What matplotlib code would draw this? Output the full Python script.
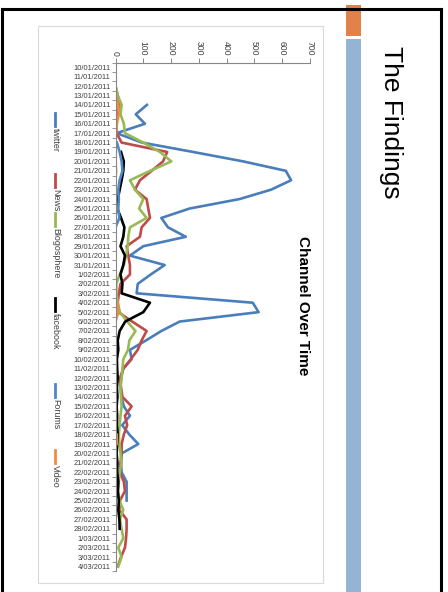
import datetime as dt
import numpy as np
import matplotlib
matplotlib.use("Agg")
import matplotlib.pyplot as plt
from matplotlib.lines import Line2D
from matplotlib.patches import Rectangle

nan = np.nan

# Daily mention counts per channel, 10 Jan - 4 Mar 2011
start = dt.date(2011, 1, 10)
dates = [start + dt.timedelta(days=i) for i in range(54)]
date_labels = [f"{d.day}/{d.month:02d}/{d.year}" for d in dates]

twitter = [nan, nan, nan, nan, 113, 73, 106, 4, 95, 280,
           460, 613, 632, 560, 446, 267, 165, 189, 253, 100,
           52, 177, 127, 80, 76, 494, 515, 231, 165, 110,
           52, 58, 28, 20, 18, 22, 30, 52, 24, 50,
           82, 22, 20, 22, 40, 40, 40, nan, nan, nan,
           nan, nan, nan, nan]
news = [nan, nan, 0, 8, 14, 5, 2, 4, 22, 186,
        171, 130, 88, 70, 112, 118, 124, 94, 88, 40,
        46, 52, 52, 18, 12, 8, 10, 60, 112, 94,
        80, 55, 28, 16, 20, 25, 58, 34, 42, 30,
        22, 22, 18, 16, 30, 34, 16, 14, 40, 40,
        38, 34, 20, 8]
blogosphere = [0, 0, 0, 8, 22, 18, 30, 34, 100, 160,
               201, 125, 52, 70, 100, 85, 112, 52, 46, 44,
               38, 30, 15, 3, 3, 8, 16, 42, 72, 50,
               45, 28, 25, 22, 18, 20, 22, 18, 15, 12,
               14, 18, 22, 15, 12, 10, 14, 28, 16, 22,
               28, 10, 22, 10]
facebook = [nan, nan, nan, nan, nan, nan, nan, nan, nan, 20,
            30, 28, 22, 15, 8, 6, 20, 32, 28, 18,
            34, 28, 18, 25, 22, 124, 100, 35, 15, 8,
            10, 5, 6, 8, 5, 7, 4, 6, 5, 8,
            6, 4, 7, 6, 10, 8, 12, 10, 14, 15,
            nan, nan, nan, nan]
forums = [nan, nan, nan, nan, nan, nan, nan, nan, 5, 15,
          22, 25, 15, 10, 12, 10, 14, 0, 0, 0,
          0, 0, 0, 0, nan, nan, 0, 0, 0, 0,
          0, 0, nan, nan, 0, 0, 0, 0, nan, nan,
          nan, nan, nan, nan, 0, 0, 0, nan, nan, nan,
          0, 0, 0, nan]
video = [nan, nan, nan, 0, 10, 12, 5, 2, 0, 1,
         0, 2, 0, 1, 0, 2, 0, nan, nan, nan,
         nan, nan, nan, nan, nan, 8, 10, 0, nan, nan,
         nan, nan, nan, nan, nan, nan, nan, nan, nan, 5,
         5, nan, nan, nan, nan, nan, nan, nan, nan, nan,
         nan, nan, nan, nan]

series_names = ["twitter", "News", "Blogosphere", "facebook", "Forums", "Video"]
series_values = [twitter, news, blogosphere, facebook, forums, video]
series_colors = ["#4A7EBB", "#BE4B48", "#98B954", "#000000", "#4F86C6", "#F08C3E"]

value_ticks = list(range(0, 701, 100))

W, H = 448, 592
plt.rcParams["font.family"] = ["Liberation Sans", "DejaVu Sans"]
fig = plt.figure(figsize=(W / 100, H / 100), dpi=100)
fig.patch.set_facecolor("white")


def fx(x):
    return x / W


def fy(y):
    return 1 - y / H


# Slide frame and accent bars
for xs, ys in [((2, 2), (9, 592)), ((2, 441), (9, 9)), ((441, 441), (9, 592))]:
    fig.add_artist(Line2D([fx(v) for v in xs], [fy(v) for v in ys],
                          transform=fig.transFigure, color="black", lw=2.2))
fig.add_artist(Rectangle((fx(346), fy(36)), fx(15), 31 / H,
                         transform=fig.transFigure, color="#E0824A", lw=0))
fig.add_artist(Rectangle((fx(346), fy(592)), fx(15), (592 - 39) / H,
                         transform=fig.transFigure, color="#95B3D2", lw=0))
fig.text(fx(391), fy(46), "The Findings", rotation=-90, ha="center", va="top",
         fontsize=19, color="black")

# Chart area border
fig.add_artist(Rectangle((fx(38), fy(583)), fx(323 - 38), (583 - 26) / H,
                         transform=fig.transFigure, fill=False,
                         edgecolor="#D9D9D9", lw=0.8))

ax = fig.add_axes([fx(115.5), fy(571.2), fx(310 - 115.5), (571.2 - 62.5) / H])
ax.set_facecolor("none")
idx = np.arange(len(dates))
for name, vals, col in zip(series_names, series_values, series_colors):
    ax.plot(vals, idx, color=col, lw=1.9, solid_joinstyle="round", label=name)

ax.set_xlim(0, 700)
ax.set_ylim(len(dates) - 0.5, -0.5)
ax.xaxis.tick_top()
ax.set_xticks(value_ticks)
ax.set_xticklabels([str(v) for v in value_ticks], rotation=-90, fontsize=6.2,
                   color="#404040")
ax.tick_params(axis="x", which="major", length=3.5, width=0.7, color="#868686",
               pad=1.5)
ax.set_yticks(idx)
ax.set_yticklabels(date_labels, fontsize=5.4, color="#404040")
ax.set_yticks(np.arange(-0.5, len(dates), 1), minor=True)
ax.tick_params(axis="y", which="major", length=0, pad=3.5)
ax.tick_params(axis="y", which="minor", length=3, width=0.6, color="#868686")
for side in ["right", "bottom"]:
    ax.spines[side].set_visible(False)
for side in ["top", "left"]:
    ax.spines[side].set_color("#868686")
    ax.spines[side].set_linewidth(0.8)

fig.text(fx(303), fy(306), "Channel Over Time", rotation=-90, ha="center",
         va="center", fontsize=11, fontweight="bold", color="black")

# Legend entries stacked down the left side
legend_starts = [113, 174, 213, 298, 384, 450]
for name, col, y0 in zip(series_names, series_colors, legend_starts):
    fig.add_artist(Line2D([fx(55), fx(55)], [fy(y0), fy(y0 + 13)],
                          transform=fig.transFigure, color=col, lw=2.0))
    fig.text(fx(55.5), fy(y0 + 15), name, rotation=-90, ha="center", va="top",
             fontsize=6.4, color="#404040")

fig.savefig("out.png", dpi=100)
